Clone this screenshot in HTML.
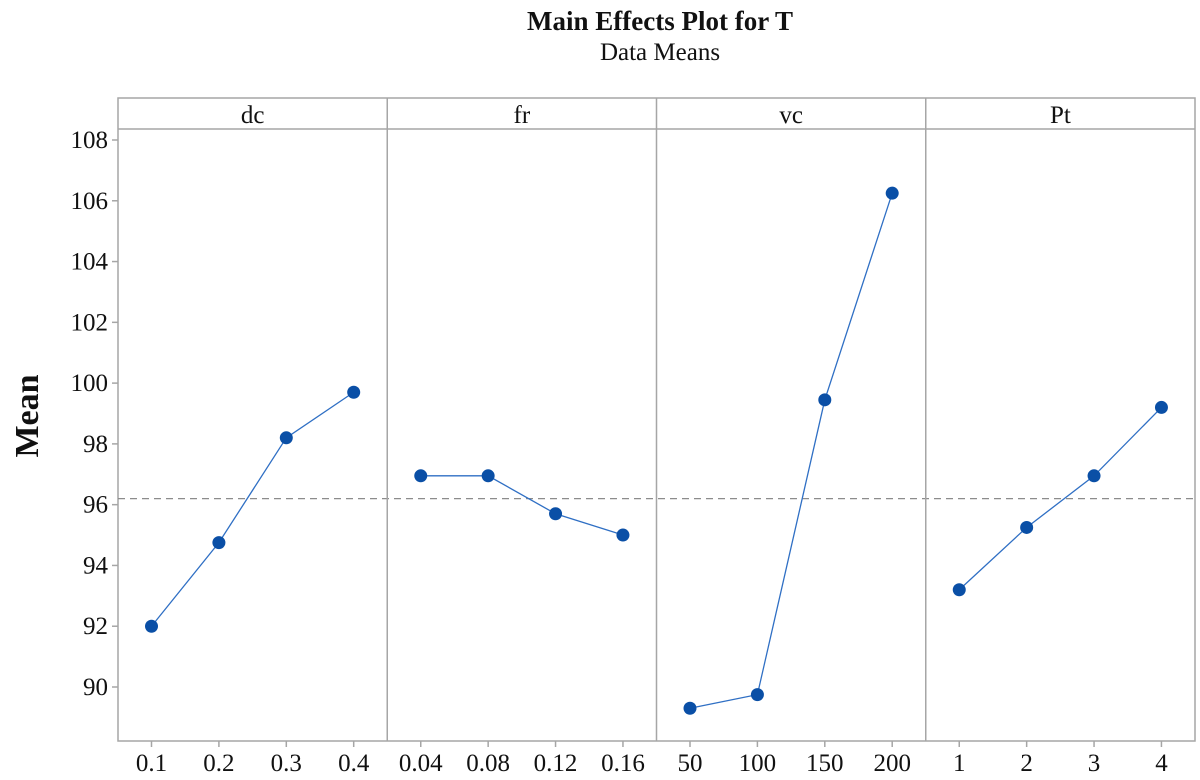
<!DOCTYPE html>
<html><head><meta charset="utf-8"><style>
body{margin:0;background:#fff;}
svg text{font-family:"Liberation Serif",serif;fill:#111;}
</style></head><body>
<svg width="1200" height="775" xmlns="http://www.w3.org/2000/svg">
<text x="660" y="30" font-size="27" font-weight="bold" text-anchor="middle">Main Effects Plot for T</text>
<text x="660" y="60" font-size="25" text-anchor="middle">Data Means</text>
<text transform="translate(38,416) rotate(-90)" font-size="34" font-weight="bold" text-anchor="middle">Mean</text>
<g id="plot"></g>
</svg>
<script>
const factors = ["dc","fr","vc","Pt"];
const dcLevels = ["0.1","0.2","0.3","0.4"];
const frLevels = ["0.04","0.08","0.12","0.16"];
const vcLevels = ["50","100","150","200"];
const ptLevels = ["1","2","3","4"];
const dcMeans = [92.0, 94.75, 98.2, 99.7];
const frMeans = [96.95, 96.95, 95.7, 95.0];
const vcMeans = [89.3, 89.75, 99.45, 106.25];
const ptMeans = [93.2, 95.25, 96.95, 99.2];
const yTicks = [90,92,94,96,98,100,102,104,106,108];
const grandMean = 96.2;

const levels = [dcLevels, frLevels, vcLevels, ptLevels];
const means = [dcMeans, frMeans, vcMeans, ptMeans];
const NS = "http://www.w3.org/2000/svg";
const g = document.getElementById("plot");
const L = 118, R = 1195, T = 98, B = 741, H = 129;
const pw = (R - L) / 4;
const y = v => 687 - (v - 90) * (547 / 18);
const x = (p, i) => L + p * pw + 33.5 + i * 67.4;
function mk(tag, attrs, parent) {
  const e = document.createElementNS(NS, tag);
  for (const k in attrs) e.setAttribute(k, attrs[k]);
  (parent || g).appendChild(e);
  return e;
}
const stroke = "#a6a6a6";
let frame = mk("rect", {x: L, y: T, width: R - L, height: B - T, fill: "none", stroke: stroke, "stroke-width": 1.5});


let hl = mk("line", {x1: L, x2: R, y1: H, y2: H, stroke: stroke, "stroke-width": 1.5});


let ref = mk("line", {x1: L, x2: R, y1: y(grandMean), y2: y(grandMean), stroke: "#8c8c8c", "stroke-width": 1.2, "stroke-dasharray": "7,5"});


yTicks.forEach(v => {
  const t = mk("line", {x1: L - 6, x2: L, y1: y(v), y2: y(v), stroke: stroke, "stroke-width": 1.5});
  
  
  const lb = mk("text", {x: L - 10, y: y(v) + 8, "font-size": 25, "text-anchor": "end"});
  lb.textContent = v;
  
  
});
factors.forEach((f, p) => {
  if (p > 0) {
    const d = mk("line", {x1: L + p * pw, x2: L + p * pw, y1: T, y2: B, stroke: stroke, "stroke-width": 1.5});
    
    
  }
  const ht = mk("text", {x: L + p * pw + pw / 2, y: 123, "font-size": 25, "text-anchor": "middle"});
  ht.textContent = f;
  
  
  const pts = means[p].map((v, i) => x(p, i) + "," + y(v)).join(" ");
  const pl = mk("polyline", {points: pts, fill: "none", stroke: "#2f6fc4", "stroke-width": 1.3});
  
  
  levels[p].forEach((lv, i) => {
    const t = mk("line", {x1: x(p, i), x2: x(p, i), y1: B, y2: B + 6, stroke: stroke, "stroke-width": 1.5});
    
    
    const lb = mk("text", {x: x(p, i), y: 771, "font-size": 25, "text-anchor": "middle"});
    lb.textContent = lv;
    
    
    const c = mk("circle", {cx: x(p, i), cy: y(means[p][i]), r: 6.5, fill: "#0a4fa6"});
    
    
  });
});
</script>
</body></html>
